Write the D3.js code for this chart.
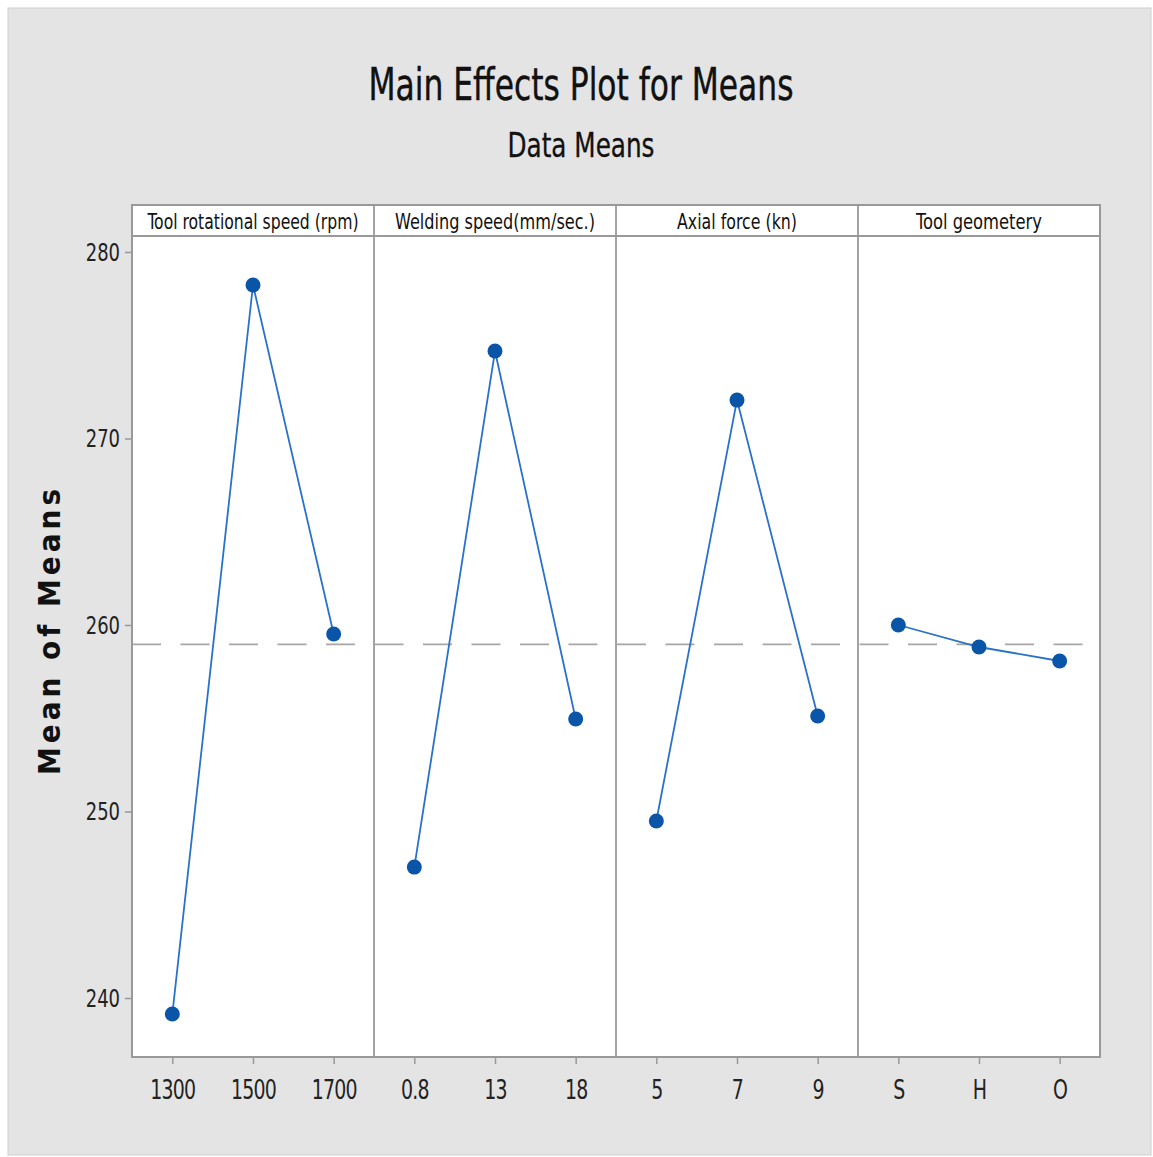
<html>
<head>
  <script src="https://d3js.org/d3.v7.min.js"></script>
  <style>
    body { margin: 0; background: #fff; }
    text { font-family: "Liberation Sans Narrow", "DejaVu Sans Condensed", sans-serif; }
  </style>
</head>
<body>
<script>

// factors and levels
let factors = ["Tool rotational speed (rpm)", "Welding speed(mm/sec.)", "Axial force (kn)", "Tool geometery"];
let levels = [
  ["1300", "1500", "1700"],
  ["0.8", "13", "18"],
  ["5", "7", "9"],
  ["S", "H", "O"]
];
// mean of means for each level
let means = [
  [239.14, 278.23, 259.52],
  [247.02, 274.69, 254.96],
  [249.49, 272.06, 255.12],
  [260.00, 258.82, 258.07]
];
let grandMean = 258.96;
let yTicks = [240, 250, 260, 270, 280];

let canvasW = 1153;
let canvasH = 1157;

let plotL = 132, plotR = 1100, headTop = 205, plotT = 236, plotB = 1057;
let panelW = (plotR - plotL) / factors.length;

let svg = d3.select("body").append("svg")
  .attr("width", canvasW)
  .attr("height", canvasH);

// gray backdrop
svg.append("rect")
  .attr("x", 8).attr("y", 8)
  .attr("width", 1143).attr("height", 1147)
  .attr("fill", "#e4e4e4")
  .attr("stroke", "#d0d0d0")
  .attr("stroke-width", 1);

svg.append("text")
  .attr("x", 581).attr("y", 100)
  .attr("text-anchor", "middle")
  .attr("font-size", "44px")
  .attr("textLength", 425)
  .attr("lengthAdjust", "spacingAndGlyphs")
  .attr("fill", "#111")
  .attr("stroke", "#111")
  .attr("stroke-width", 0.4)
  .text("Main Effects Plot for Means");

svg.append("text")
  .attr("x", 581).attr("y", 157)
  .attr("text-anchor", "middle")
  .attr("font-size", "34px")
  .attr("textLength", 147)
  .attr("lengthAdjust", "spacingAndGlyphs")
  .attr("fill", "#111")
  .attr("stroke", "#111")
  .attr("stroke-width", 0.3)
  .text("Data Means");

let y = d3.scaleLinear()
  .domain([280 - (plotB - 252) / 18.65, 280 + (252 - plotT) / 18.65])
  .range([plotB, plotT]);

// white plot area and header strip
svg.append("rect")
  .attr("x", plotL).attr("y", headTop)
  .attr("width", plotR - plotL).attr("height", plotB - headTop)
  .attr("fill", "#fff");

// y axis
let yAxis = svg.append("g")
  .attr("transform", "translate(" + plotL + ",0)")
  .call(d3.axisLeft(y).tickValues(yTicks).tickSize(7).tickPadding(4));
yAxis.select(".domain").remove();
yAxis.selectAll(".tick line").attr("stroke", "#999").attr("stroke-width", 1.5);
yAxis.selectAll(".tick text")
  .attr("font-size", "25px")
  .attr("fill", "#222")
  .attr("transform", "scale(0.8,1)")
  .attr("x", -12 / 0.8);

svg.append("text")
  .attr("transform", "translate(60,630) rotate(-90)")
  .attr("text-anchor", "middle")
  .style("font-family", "'DejaVu Sans Condensed', sans-serif")
  .attr("font-weight", "bold")
  .attr("font-size", "31px")
  .attr("letter-spacing", "4px")
  .attr("fill", "#111")
  .text("Mean of Means");

// mean reference line, one dash pattern across all panels
svg.append("line")
  .attr("x1", plotL).attr("x2", plotR)
  .attr("y1", y(grandMean)).attr("y2", y(grandMean))
  .attr("stroke", "#a6a6a6")
  .attr("stroke-width", 1.8)
  .attr("stroke-dasharray", "29,19.5");

factors.forEach(function(f, i) {
  let x0 = plotL + i * panelW;
  let x = d3.scalePoint()
    .domain(levels[i])
    .range([x0, x0 + panelW])
    .padding(0.5);

  let g = svg.append("g");

  // header label
  g.append("text")
    .attr("x", x0 + panelW / 2)
    .attr("y", 229)
    .attr("text-anchor", "middle")
    .attr("font-size", "21px")
    .attr("fill", "#111")
    .attr("textLength", [211, 200, 120, 126][i])
    .attr("lengthAdjust", "spacingAndGlyphs")
    .text(f);

  // x axis
  let xAxis = g.append("g")
    .attr("transform", "translate(0," + plotB + ")")
    .call(d3.axisBottom(x).tickSize(7).tickPadding(16));
  xAxis.select(".domain").remove();
  xAxis.selectAll(".tick line").attr("stroke", "#999").attr("stroke-width", 1.5);
  xAxis.selectAll(".tick text")
    .attr("font-size", "27px")
    .attr("fill", "#222")
    .attr("letter-spacing", "-1px")
    .attr("transform", "scale(0.78,1)");

  let pts = levels[i].map((l, j) => ({ lev: l, val: means[i][j] }));

  g.append("path")
    .datum(pts)
    .attr("fill", "none")
    .attr("stroke", "#2a72c8")
    .attr("stroke-width", 1.8)
    .attr("d", d3.line().x(d => x(d.lev)).y(d => y(d.val)));

  g.selectAll("circle")
    .data(pts)
    .enter()
    .append("circle")
    .attr("cx", d => x(d.lev))
    .attr("cy", d => y(d.val))
    .attr("r", 7.5)
    .attr("fill", "#0a55a8");

  // panel separators
  if (i > 0) {
    svg.append("line")
      .attr("x1", x0).attr("x2", x0)
      .attr("y1", headTop).attr("y2", plotB)
      .attr("stroke", "#999")
      .attr("stroke-width", 1.8);
  }
});

// header divider and frame
svg.append("line")
  .attr("x1", plotL).attr("x2", plotR)
  .attr("y1", plotT).attr("y2", plotT)
  .attr("stroke", "#999")
  .attr("stroke-width", 1.8);

svg.append("rect")
  .attr("x", plotL).attr("y", headTop)
  .attr("width", plotR - plotL).attr("height", plotB - headTop)
  .attr("fill", "none")
  .attr("stroke", "#999")
  .attr("stroke-width", 2);

</script>
</body>
</html>
